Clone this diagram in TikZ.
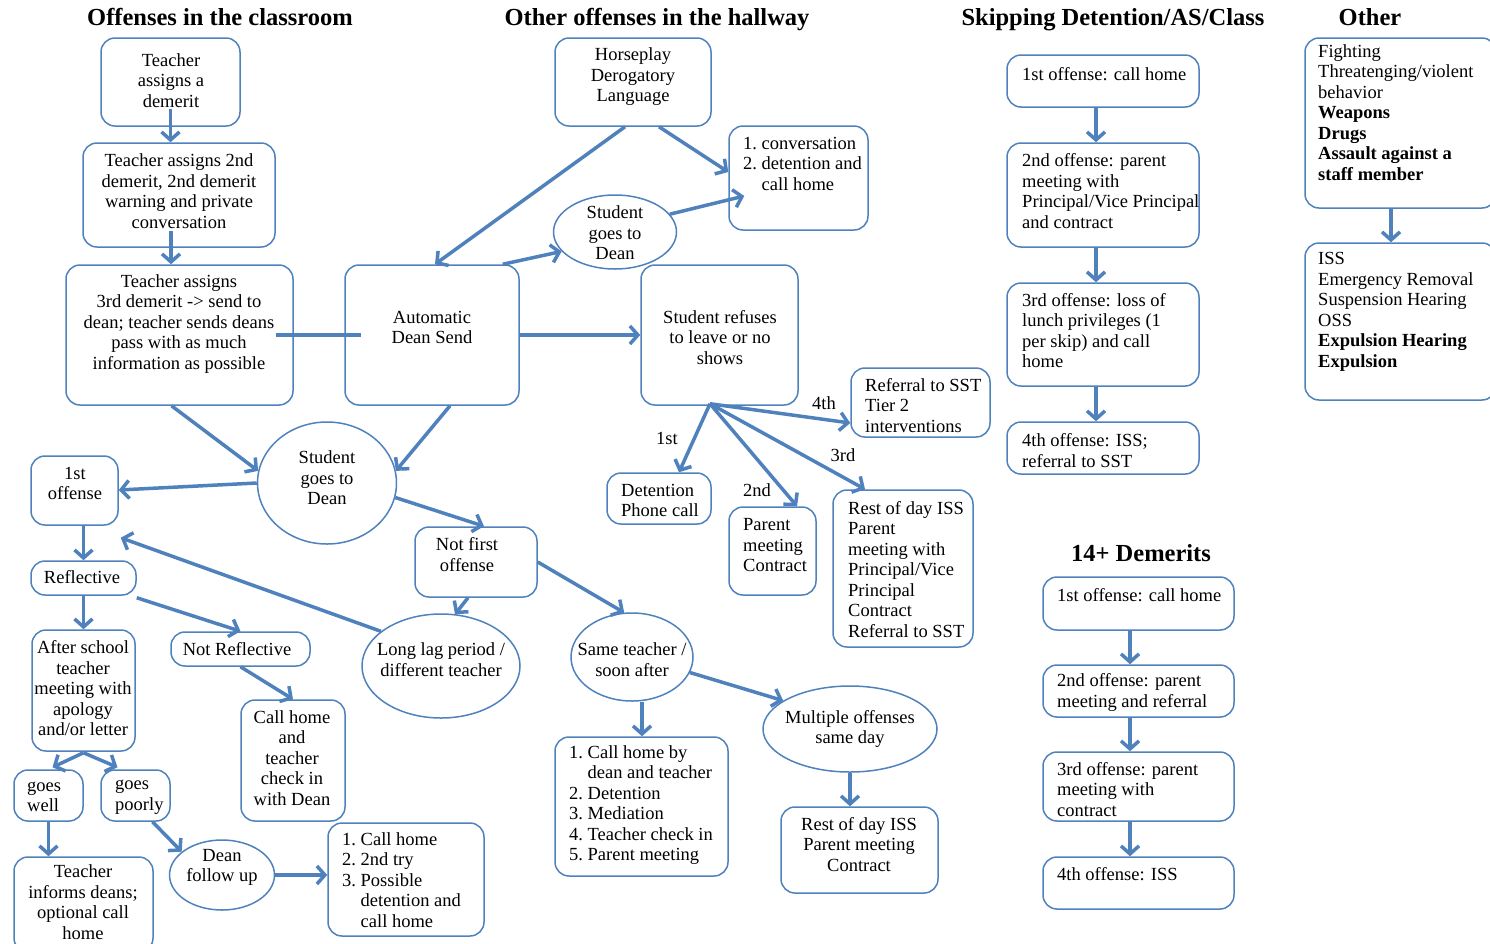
\documentclass[tikz,border=0pt]{standalone}
\usepackage{fontspec}
\setmainfont{Liberation Serif}
\usetikzlibrary{arrows.meta,shapes.geometric,calc,fit}
\definecolor{lineblue}{RGB}{79,129,189}
\newcommand{\myBody}{\fontsize{18.5}{20.5}\selectfont}
\newcommand{\myTitle}{\fontsize{24.5}{28}\selectfont\bfseries}
\begin{document}
\begin{tikzpicture}[x=1pt,y=-1pt,
  box/.style={draw=lineblue, line width=1.5pt, rounded corners=14pt, inner sep=0pt},
  ell/.style={draw=lineblue, line width=1.5pt, ellipse, inner sep=0pt},
  txt/.style={inner sep=0pt, align=center, font=\myBody},
  ltxt/.style={inner sep=0pt, align=left, font=\myBody, anchor=west},
  lbl/.style={inner sep=0pt, font=\myBody},
  arr/.style={draw=lineblue, line width=3.5pt, -{Straight Barb[length=8pt,width=18pt]}},
  plainline/.style={draw=lineblue, line width=3.5pt},
  ttl/.style={font=\myTitle, inner sep=0pt, anchor=base}]
\useasboundingbox (0,0) rectangle (1490,943);

% titles
\node[ttl] (t1) at (220,25) {Offenses in the classroom};
\node[ttl] (t2) at (657,25) {Other offenses in the hallway};
\node[ttl] (t3) at (1113,25) {Skipping Detention/AS/Class};
\node[ttl] (t4) at (1370,25) {Other};
\node[ttl] (t5) at (1141,561) {14+ Demerits};

% ---------- classroom column ----------
\node[box, fit={(101,38) (240,126)}] (tA) {};
\node[txt] at (171,80.5) {Teacher\\assigns a\\demerit};
\node[box, fit={(83,143) (275,247)}] (tB) {};
\node[txt] at (179,191) {Teacher assigns 2nd\\demerit, 2nd demerit\\warning and private\\conversation};
\node[box, fit={(66,265) (293,405)}] (tC) {};
\node[txt] at (179,324) {Teacher assigns\\3rd demerit -> send to\\dean; teacher sends deans\\pass with as much\\information as possible};
\node[box, fit={(345,265) (519,405)}] (auto) {};
\node[txt] at (432,327.5) {Automatic\\Dean Send};
\node[box, fit={(641,265) (798,405)}] (refuse) {};
\node[txt] at (720,337.5) {Student refuses\\to leave or no\\shows};

% ---------- hallway ----------
\node[box, fit={(555,38) (711,126)}] (horse) {};
\node[txt] at (633,77) {Horseplay\\Derogatory\\Language};
\node[box, fit={(729,126) (868,230)}] (conv) {};
\node[ltxt] at (743,163.5) {1.~conversation\\2.~detention and\\\hphantom{2.~}call home};
\node[ell, minimum width=123pt, minimum height=74pt] (sgdA) at (615,232) {};
\node[txt] at (615,233) {Student\\goes to\\Dean};

% ---------- dean ----------
\node[ell, minimum width=139pt, minimum height=122pt] (sgdB) at (327,483) {};
\node[txt] at (327,478) {Student\\goes to\\Dean};
\node[box, fit={(31,456) (118,525)}] (first) {};
\node[txt] at (75,483.5) {1st\\offense};
\node[box, fit={(415,527) (537,597)}] (notfirst) {};
\node[txt] at (467,554.5) {Not first\\offense};
\node[box, fit={(31,561) (136,595)}] (refl) {};
\node[txt] at (82,577) {Reflective};
\node[box, fit={(32,630) (135,751)}] (after) {};
\node[txt] at (83,688.5) {After school\\teacher\\meeting with\\apology\\and/or letter};
\node[box, fit={(171,632) (310,666)}] (notrefl) {};
\node[txt] at (237,649) {Not Reflective};
\node[ell, minimum width=158pt, minimum height=104pt] (lag) at (441,666) {};
\node[txt] at (441,659.5) {Long lag period /\\different teacher};
\node[box, fit={(241,700) (345,821)}] (chk) {};
\node[txt] at (292,758) {Call home\\and\\teacher\\check in\\with Dean};
\node[box, fit={(14,770) (83,821)}] (well) {};
\node[ltxt] at (27,797) {goes\\well};
\node[box, fit={(101,770) (170,821)}] (poor) {};
\node[ltxt] at (115,797) {goes\\poorly};
\node[box, fit={(14,857) (153,952)}] (informs) {};
\node[txt] at (83,902) {Teacher\\informs deans;\\optional call\\home};
\node[ell, minimum width=105pt, minimum height=70pt] (follow) at (222,875) {};
\node[txt] at (222,867.5) {Dean\\follow up};
\node[box, fit={(328,823) (484,936)}] (tries) {};
\node[ltxt] at (342,880) {1.~Call home\\2.~2nd try\\3.~Possible\\\hphantom{3.~}detention and\\\hphantom{3.~}call home};
\node[ell, minimum width=122pt, minimum height=88pt] (same) at (632,657) {};
\node[txt] at (632,659.5) {Same teacher /\\soon after};
\node[ell, minimum width=174pt, minimum height=86pt] (multi) at (850,729) {};
\node[txt] at (850,729) {Multiple offenses\\same day};
\node[box, fit={(555,737) (728,876)}] (five) {};
\node[ltxt] at (569,805) {1.~Call home by\\\hphantom{1.~}dean and teacher\\2.~Detention\\3.~Mediation\\4.~Teacher check in\\5.~Parent meeting};
\node[box, fit={(781,807) (938,893)}] (rest) {};
\node[txt] at (859,844.5) {Rest of day ISS\\Parent meeting\\Contract};

% ---------- refuse branches ----------
\node[box, fit={(607,473) (711,524)}] (det) {};
\node[ltxt] at (621,500.5) {Detention\\Phone call};
\node[box, fit={(729,507) (816,595)}] (par) {};
\node[ltxt] at (743,545.5) {Parent\\meeting\\Contract};
\node[box, fit={(833,490) (973,647)}] (restB) {};
\node[ltxt] at (848,569.5) {Rest of day ISS\\Parent\\meeting with\\Principal/Vice\\Principal\\Contract\\Referral to SST};
\node[box, fit={(851,368) (990,437)}] (ref) {};
\node[ltxt] at (865,405.5) {Referral to SST\\Tier 2\\interventions};
\node[lbl] (l1) at (667,438) {1st};
\node[lbl] (l2) at (757,490) {2nd};
\node[lbl] (l3) at (843,455) {3rd};
\node[lbl] (l4) at (824,403) {4th};

% ---------- skipping ----------
\node[box, fit={(1007,55) (1199,107)}] (s1) {};
\node[ltxt] at (1022,74) {1st offense: call home};
\node[box, fit={(1007,143) (1199,247)}] (s2) {};
\node[ltxt] at (1022,191) {2nd offense: parent\\meeting with\\Principal/Vice Principal\\and contract};
\node[box, fit={(1007,283) (1199,386)}] (s3) {};
\node[ltxt] at (1022,330.5) {3rd offense: loss of\\lunch privileges (1\\per skip) and call\\home};
\node[box, fit={(1007,422) (1199,474)}] (s4) {};
\node[ltxt] at (1022,450.5) {4th offense: ISS;\\referral to SST};

% ---------- other ----------
\node[box, fit={(1305,38) (1496,208)}] (o1) {};
\node[ltxt] at (1318,112.5) {Fighting\\Threatenging/violent\\behavior\\\textbf{Weapons}\\\textbf{Drugs}\\\textbf{Assault against a}\\\textbf{staff member}};
\node[box, fit={(1305,243) (1496,400)}] (o2) {};
\node[ltxt] at (1318,312) {ISS\\Emergency Removal\\Suspension Hearing\\OSS\\\textbf{Expulsion Hearing}\\\textbf{Expulsion}};

% ---------- 14+ ----------
\node[box, fit={(1043,577) (1234,630)}] (d1) {};
\node[ltxt] at (1057,595) {1st offense: call home};
\node[box, fit={(1043,665) (1234,717)}] (d2) {};
\node[ltxt] at (1057,692.5) {2nd offense: parent\\meeting and referral};
\node[box, fit={(1043,752) (1234,821)}] (d3) {};
\node[ltxt] at (1057,789.5) {3rd offense: parent\\meeting with\\contract};
\node[box, fit={(1043,857) (1234,909)}] (d4) {};
\node[ltxt] at (1057,874) {4th offense: ISS};

% ---------- connectors ----------
\draw[arr] ($(tA.south)+(0,-18)$) -- (tB.north -| tA.south);
\draw[arr] ($(tB.south)+(-8,-17)$) -- ($(tC.north)+(-8.5,0)$);
\draw[plainline] ($(tC.east)+(-18,0)$) -- ($(auto.west)+(17,0)$);
\draw[arr] (auto.east) -- (refuse.west);
\draw[arr] ($(horse.south)+(-8,0)$) -- ($(auto.north)+(3,0)$);
\draw[arr] ($(horse.south)+(26,0)$) -- ($(conv.west)+(0,-6)$);
\draw[arr] (sgdA.18) -- ($(conv.west)+(16,18)$);
\draw[arr] ($(auto.north east)+(-17,0)$) -- (sgdA.200);
\draw[arr] ($(tC.south)+(-8,0)$) -- (sgdB.170);
\draw[arr] ($(auto.south)+(18,0)$) -- (sgdB.10);
\draw[arr] (sgdB.west) -- ($(first.east)+(0,-0.5)$);
\draw[arr] (sgdB.-12) -- ($(notfirst.north)+(8,0)$);
\draw[arr] ($(first.south)+(9,0)$) -- (refl.north);
\draw[arr] (lag.150) -- ($(first.south east)+(2,12)$);
\draw[arr] (refl.south) -- (after.north);
\draw[arr] ($(refl.south east)+(0,2)$) -- (notrefl.north);
\draw[arr] ($(notfirst.south)+(-8,0)$) -- ($(lag.north)+(14,1)$);
\draw[arr] (notfirst.east) -- (same.100);
\draw[arr] (notrefl.south) -- (chk.north);
\coordinate (split) at ($(after.south)+(0,1)$);
\draw[arr] (split) -- ($(well.north)+(4,-2)$);
\draw[arr] (split) -- ($(poor.north)+(-18,-2)$);
\draw[arr] (well.south) -- (well.south |- informs.north);
\draw[arr] ($(poor.south)+(17,0)$) -- (follow.150);
\draw[arr] (follow.east) -- (tries.west |- follow.east);
\draw[arr] ($(same.south)+(10,0)$) -- ($(five.north)+(0.5,0)$);
\draw[arr] (same.-15) -- (multi.157);
\draw[arr] (multi.south) -- (multi.south |- rest.north);
\coordinate (fan) at ($(refuse.south)+(-9.5,-2)$);
\draw[arr] (fan) -- ($(det.north)+(20,0)$);
\draw[arr] (fan) -- ($(par.north)+(24.5,0)$);
\draw[arr] (fan) -- ($(restB.north)+(-38,0)$);
\draw[arr] (fan) -- ($(ref.west)+(0,20.5)$);
\draw[arr] ($(s1.south)+(-7,0)$) -- ($(s2.north)+(-7,0)$);
\draw[arr] ($(s2.south)+(-7,0)$) -- ($(s3.north)+(-7,0)$);
\draw[arr] ($(s3.south)+(-7,0)$) -- ($(s4.north)+(-7,0)$);
\draw[arr] ($(o1.south)+(-9.5,0)$) -- ($(o2.north)+(-9.5,0)$);
\draw[arr] ($(d1.south)+(-8.5,0)$) -- ($(d2.north)+(-8.5,0)$);
\draw[arr] ($(d2.south)+(-8.5,0)$) -- ($(d3.north)+(-8.5,0)$);
\draw[arr] ($(d3.south)+(-8.5,0)$) -- ($(d4.north)+(-8.5,0)$);
\end{tikzpicture}
\end{document}
